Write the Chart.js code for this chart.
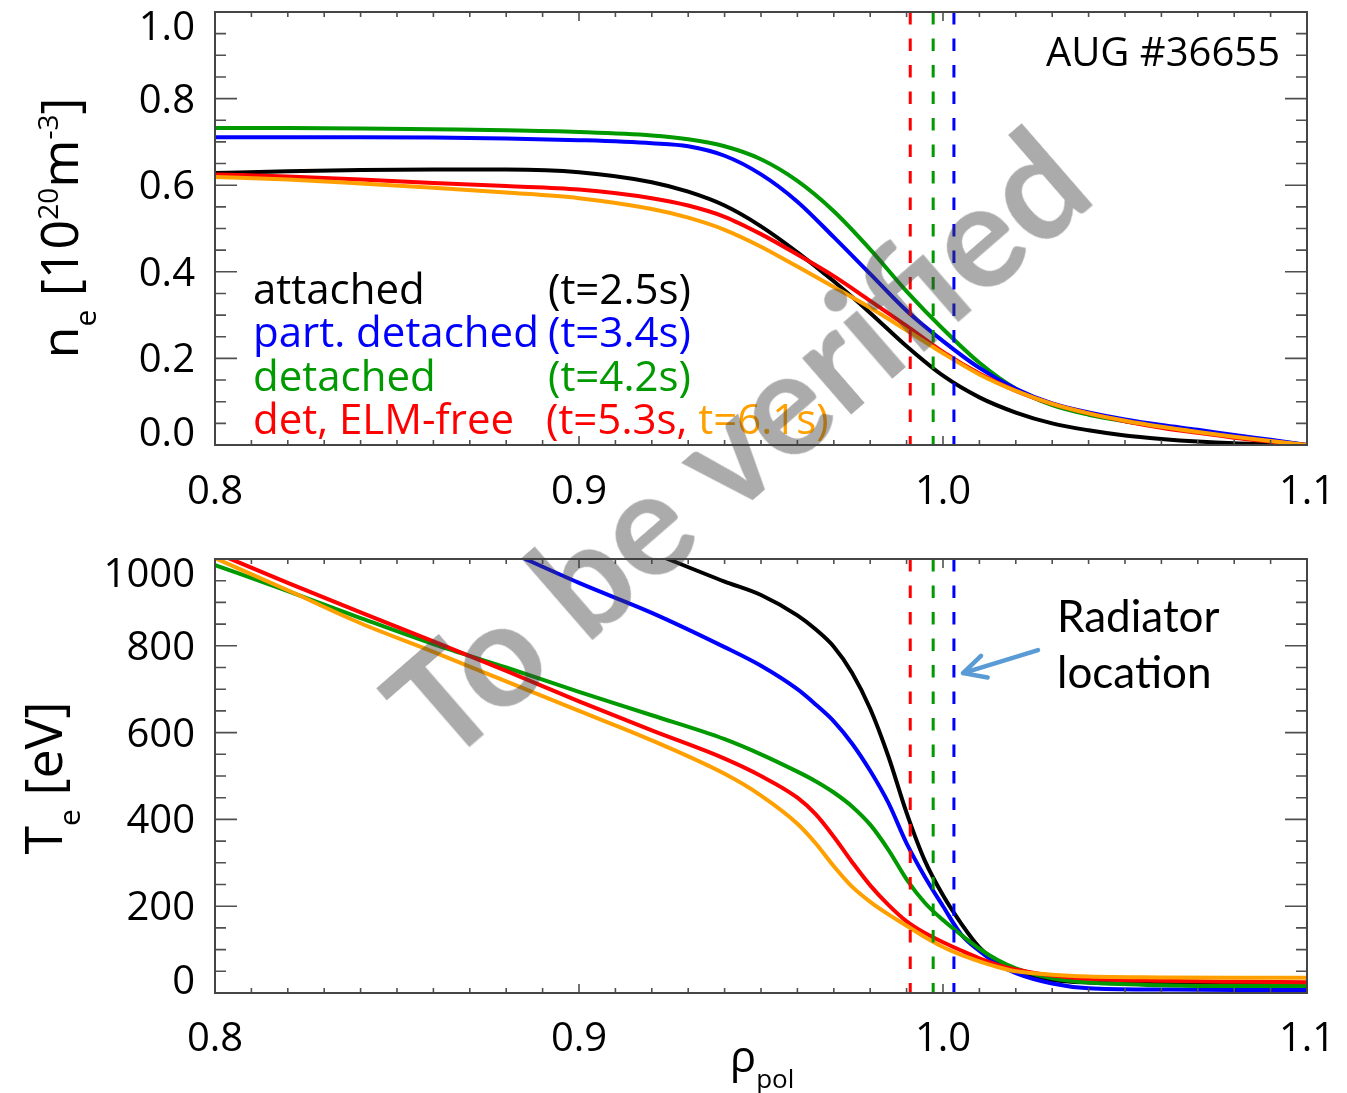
<!DOCTYPE html>
<html>
<head>
<meta charset="utf-8">
<title>AUG #36655 ne / Te profiles</title>
<script src="https://cdn.jsdelivr.net/npm/chart.js@4.4.1/dist/chart.umd.min.js"></script>
<style>
    html, body { margin: 0; padding: 0; background: #fff; }
    #page { position: relative; width: 1347px; height: 1093px; overflow: hidden; font-family: "Open Sans", sans-serif; }
    #page canvas { position: absolute; left: 0; }
    .txt { position: absolute; white-space: nowrap; line-height: 1; }
    .leg { font-size: 42px; }
    #wm { position: absolute; left: 735px; top: 442px; white-space: nowrap; line-height: 1;
          font-family: Lato, sans-serif; font-weight: bold; font-size: 145px; color: rgba(60, 60, 60, 0.43);
          transform: translate(-50%, -50%) rotate(-41deg); pointer-events: none; }
</style>
</head>
<body>
<div id="page">
    <canvas id="neChart" width="1347" height="530" style="top:0"></canvas>
    <canvas id="teChart" width="1347" height="563" style="top:530px"></canvas>

    <div class="txt leg" style="left:253px;top:267px;color:#000">attached</div>
    <div class="txt leg" style="left:548px;top:267px;color:#000">(t=2.5s)</div>
    <div class="txt leg" style="left:253px;top:310px;color:#0000ff">part. detached</div>
    <div class="txt leg" style="left:548px;top:310px;color:#0000ff">(t=3.4s)</div>
    <div class="txt leg" style="left:253px;top:354px;color:#009a00">detached</div>
    <div class="txt leg" style="left:548px;top:354px;color:#009a00">(t=4.2s)</div>
    <div class="txt leg" style="left:253px;top:397px;color:#ff0000">det, ELM-free</div>
    <div class="txt leg" style="left:546px;top:397px;color:#ff0000">(t=5.3s, <span style="color:#ffa000">t=6.1s)</span></div>

    <div class="txt" style="right:67px;top:31px;font-size:40px;color:#000">AUG #36655</div>
    <div class="txt" style="left:1057px;top:593px;font-family:Lato,sans-serif;font-size:44px;color:#000">Radiator</div>
    <div class="txt" style="left:1057px;top:649px;font-family:Lato,sans-serif;font-size:44px;color:#000">location</div>

    <div id="wm">To be verified</div>
</div>

<script>
// ---- axes ----
var rhoTicks = [0.8, 0.9, 1.0, 1.1];
var neTicks = [0.0, 0.2, 0.4, 0.6, 0.8, 1.0];
var teTicks = [0, 200, 400, 600, 800, 1000];

// ---- density profiles, n_e [1e20 m^-3] ----
var rhoNe = [0.80, 0.82, 0.84, 0.86, 0.88, 0.90, 0.92, 0.93, 0.94, 0.95, 0.96, 0.97, 0.98, 0.99,
             1.00, 1.01, 1.02, 1.03, 1.04, 1.05, 1.06, 1.07, 1.08, 1.09, 1.10];
var neAttached = [0.628, 0.632, 0.635, 0.636, 0.636, 0.630, 0.607, 0.585, 0.553, 0.505, 0.445, 0.378, 0.305,
                  0.228, 0.160, 0.110, 0.075, 0.050, 0.034, 0.022, 0.014, 0.008, 0.004, 0.002, 0.000];
var nePartDet = [0.711, 0.711, 0.711, 0.710, 0.708, 0.704, 0.697, 0.690, 0.668, 0.625, 0.562, 0.480, 0.395,
                 0.310, 0.240, 0.178, 0.130, 0.096, 0.075, 0.059, 0.046, 0.035, 0.023, 0.012, 0.000];
var neDetached = [0.732, 0.732, 0.731, 0.729, 0.727, 0.723, 0.715, 0.706, 0.690, 0.660, 0.610, 0.540, 0.452,
                  0.355, 0.268, 0.190, 0.130, 0.092, 0.070, 0.055, 0.043, 0.032, 0.021, 0.010, 0.000];
var neElmFree53 = [0.625, 0.620, 0.613, 0.605, 0.598, 0.590, 0.570, 0.553, 0.527, 0.487, 0.440, 0.390, 0.333,
                   0.275, 0.215, 0.165, 0.125, 0.095, 0.073, 0.055, 0.040, 0.028, 0.017, 0.008, 0.000];
var neElmFree61 = [0.619, 0.613, 0.604, 0.594, 0.583, 0.570, 0.545, 0.525, 0.497, 0.458, 0.412, 0.365, 0.317,
                   0.265, 0.212, 0.163, 0.125, 0.095, 0.073, 0.056, 0.042, 0.030, 0.019, 0.009, 0.000];

// ---- temperature profiles, T_e [eV] ----
var rhoTe = [0.80, 0.82, 0.84, 0.86, 0.88, 0.90, 0.92, 0.94, 0.95, 0.96, 0.965, 0.97, 0.975, 0.98, 0.985,
             0.99, 0.995, 1.00, 1.005, 1.01, 1.015, 1.02, 1.03, 1.04, 1.06, 1.08, 1.10];
var teAttached = [null, null, null, null, null, null, 1015, 948, 917, 870, 838, 798, 738, 655, 545,
                  415, 305, 225, 160, 105, 68, 48, 30, 24, 21, 20, 20];
var tePartDet = [null, null, null, null, 1020, 945, 876, 797, 754, 700, 665, 626, 575, 512, 438,
                 345, 268, 200, 135, 97, 67, 46, 22, 11, 8, 7, 7];
var teDetached = [986, 926, 864, 804, 750, 694, 640, 585, 550, 510, 488, 462, 430, 388, 330,
                  262, 208, 168, 134, 102, 76, 57, 34, 24, 18, 16, 16];
var teElmFree53 = [1015, 945, 877, 810, 742, 672, 605, 540, 500, 450, 412, 360, 302, 248, 203,
                   165, 138, 117, 98, 80, 65, 54, 40, 33, 28, 26, 25];
var teElmFree61 = [1002, 928, 852, 786, 718, 650, 582, 505, 455, 390, 345, 292, 245, 210, 181,
                   155, 129, 106, 88, 73, 60, 50, 42, 38, 36, 35, 35];

// radiator positions (rho_pol) for the detached phases
var radiatorRho = [0.991, 0.9973, 1.003];
var radiatorColors = ["#ff0000", "#009a00", "#0000ff"];

// annotation arrow in the Te panel (rho, Te)
var arrowFrom = [1.0261, 790];
var arrowTo = [1.0055, 737];

var COLORS = { attached: "#000000", part: "#0000ff", det: "#009a00", elm53: "#ff0000", elm61: "#ffa000" };
var FONT = '"Open Sans", sans-serif';

function pairs(xs, ys) {
    return xs.map(function (x, i) { return { x: x, y: ys[i] }; });
}

function curve(label, xs, ys, color) {
    return {
        label: label, data: pairs(xs, ys), borderColor: color, borderWidth: 4,
        pointRadius: 0, cubicInterpolationMode: "monotone", fill: false, spanGaps: false
    };
}

function radiatorLines(yMin, yMax) {
    return radiatorRho.map(function (r, i) {
        return {
            label: "radiator", data: [{ x: r, y: yMax }, { x: r, y: yMin }],
            borderColor: radiatorColors[i], borderWidth: 3, borderDash: [12.5, 14],
            pointRadius: 0, tension: 0, fill: false
        };
    });
}

// IDL-style frame: inward ticks on all four sides, labels, rotated titles
var idlFrame = {
    id: "idlFrame",
    afterDatasetsDraw: function (chart, args, o) {
        var ctx = chart.ctx, a = chart.chartArea;
        var xs = chart.scales.x, ys = chart.scales.y;
        var i, n, v, px, py, major, len;
        ctx.save();

        ctx.strokeStyle = "#505050";
        ctx.lineWidth = 1.6;
        ctx.beginPath();
        n = Math.round((xs.max - xs.min) / o.xMinor);
        for (i = 0; i <= n; i++) {
            v = xs.min + i * o.xMinor;
            major = Math.abs(v / o.xMajor - Math.round(v / o.xMajor)) < 1e-6;
            len = major ? 9 : 5;
            px = xs.getPixelForValue(v);
            ctx.moveTo(px, a.bottom); ctx.lineTo(px, a.bottom - len);
            ctx.moveTo(px, a.top); ctx.lineTo(px, a.top + len);
        }
        n = Math.round((ys.max - ys.min) / o.yMinor);
        for (i = 0; i <= n; i++) {
            v = ys.min + i * o.yMinor;
            major = Math.abs(v / o.yMajor - Math.round(v / o.yMajor)) < 1e-6;
            len = major ? 22 : 11;
            py = ys.getPixelForValue(v);
            ctx.moveTo(a.left, py); ctx.lineTo(a.left + len, py);
            ctx.moveTo(a.right, py); ctx.lineTo(a.right - len, py);
        }
        ctx.stroke();

        ctx.lineWidth = 2;
        ctx.strokeStyle = "#454545";
        ctx.strokeRect(a.left, a.top, a.right - a.left, a.bottom - a.top);

        // tick labels
        ctx.fillStyle = "#000";
        ctx.font = "40px " + FONT;
        ctx.textBaseline = "alphabetic";
        ctx.textAlign = "center";
        o.xLabels.forEach(function (t) {
            ctx.fillText(t.toFixed(1), xs.getPixelForValue(t), a.bottom + o.xLabelDrop);
        });
        ctx.textAlign = "right";
        o.yLabels.forEach(function (t) {
            var c = Math.min(Math.max(ys.getPixelForValue(t), a.top + 14), a.bottom - 13);
            ctx.fillText(o.yFormat(t), a.left - 20, c + 14);
        });

        // rotated / rich titles
        (o.titles || []).forEach(function (tt) {
            var total = 0;
            tt.parts.forEach(function (p) {
                ctx.font = p[1] + "px " + FONT;
                total += ctx.measureText(p[0]).width;
            });
            ctx.save();
            ctx.translate(tt.x, tt.y);
            ctx.rotate(tt.rot);
            ctx.textAlign = "left";
            var cx = -total / 2;
            tt.parts.forEach(function (p) {
                ctx.font = p[1] + "px " + FONT;
                ctx.fillText(p[0], cx, p[2]);
                cx += ctx.measureText(p[0]).width;
            });
            ctx.restore();
        });

        // arrow annotation
        if (o.arrow) {
            var x0 = xs.getPixelForValue(o.arrow.from[0]), y0 = ys.getPixelForValue(o.arrow.from[1]);
            var x1 = xs.getPixelForValue(o.arrow.to[0]), y1 = ys.getPixelForValue(o.arrow.to[1]);
            var ang = Math.atan2(y0 - y1, x0 - x1);
            ctx.strokeStyle = "#5b9bd5";
            ctx.lineWidth = 4.5;
            ctx.lineCap = "round";
            ctx.lineJoin = "round";
            ctx.beginPath();
            ctx.moveTo(x0, y0); ctx.lineTo(x1, y1);
            ctx.moveTo(x1 + 25 * Math.cos(ang - 0.47), y1 + 25 * Math.sin(ang - 0.47));
            ctx.lineTo(x1, y1);
            ctx.lineTo(x1 + 25 * Math.cos(ang + 0.47), y1 + 25 * Math.sin(ang + 0.47));
            ctx.stroke();
        }
        ctx.restore();
    }
};

function axis(min, max, fit) {
    return {
        type: "linear", min: min, max: max,
        grid: { display: false, drawTicks: false },
        border: { display: false },
        ticks: { display: false },
        afterFit: fit
    };
}

function makeChart(id, datasets, yMin, yMax, padTop, xAxisHeight, frame) {
    return new Chart(document.getElementById(id), {
        type: "line",
        data: { datasets: datasets },
        options: {
            responsive: false, animation: false, events: [],
            layout: { padding: { left: 0, right: 40, top: padTop, bottom: 0 } },
            plugins: { legend: { display: false }, tooltip: { enabled: false }, idlFrame: frame },
            scales: {
                x: axis(0.8, 1.1, function (s) { s.height = xAxisHeight; }),
                y: axis(yMin, yMax, function (s) { s.width = 215; })
            }
        },
        plugins: [idlFrame]
    });
}

function build() {
    var neSets = radiatorLines(0, 1).concat([
        curve("det, ELM-free t=6.1s", rhoNe, neElmFree61, COLORS.elm61),
        curve("det, ELM-free t=5.3s", rhoNe, neElmFree53, COLORS.elm53),
        curve("part. detached", rhoNe, nePartDet, COLORS.part),
        curve("detached", rhoNe, neDetached, COLORS.det),
        curve("attached", rhoNe, neAttached, COLORS.attached)
    ]);
    makeChart("neChart", neSets, 0, 1, 12, 85, {
        xMinor: 0.01, xMajor: 0.1, yMinor: 0.05, yMajor: 0.2,
        xLabels: rhoTicks, yLabels: neTicks, xLabelDrop: 59,
        yFormat: function (t) { return t.toFixed(1); },
        titles: [{
            x: 78, y: 228, rot: -Math.PI / 2,
            parts: [["n", 52, 0], ["e", 30, 18], [" [10", 52, 0], ["20", 28, -20], ["m", 52, 0], ["-3", 28, -20], ["]", 52, 0]]
        }]
    });

    var teSets = radiatorLines(0, 1000).concat([
        curve("det, ELM-free t=6.1s", rhoTe, teElmFree61, COLORS.elm61),
        curve("det, ELM-free t=5.3s", rhoTe, teElmFree53, COLORS.elm53),
        curve("detached", rhoTe, teDetached, COLORS.det),
        curve("part. detached", rhoTe, tePartDet, COLORS.part),
        curve("attached", rhoTe, teAttached, COLORS.attached)
    ]);
    makeChart("teChart", teSets, 0, 1000, 29, 100, {
        xMinor: 0.01, xMajor: 0.1, yMinor: 50, yMajor: 200,
        xLabels: rhoTicks, yLabels: teTicks, xLabelDrop: 58,
        yFormat: function (t) { return String(t); },
        titles: [
            { x: 62, y: 248, rot: -Math.PI / 2, parts: [["T", 52, 0], ["e", 30, 18], [" [eV]", 52, 0]] },
            { x: 762, y: 542, rot: 0, parts: [["\u03c1", 44, 0], ["pol", 26, 16]] }
        ],
        arrow: { from: arrowFrom, to: arrowTo }
    });
}

if (document.fonts && document.fonts.load) {
    Promise.all([document.fonts.load('40px "Open Sans"'), document.fonts.load("bold 40px Lato")])
        .then(build, build);
} else {
    build();
}
</script>
</body>
</html>
